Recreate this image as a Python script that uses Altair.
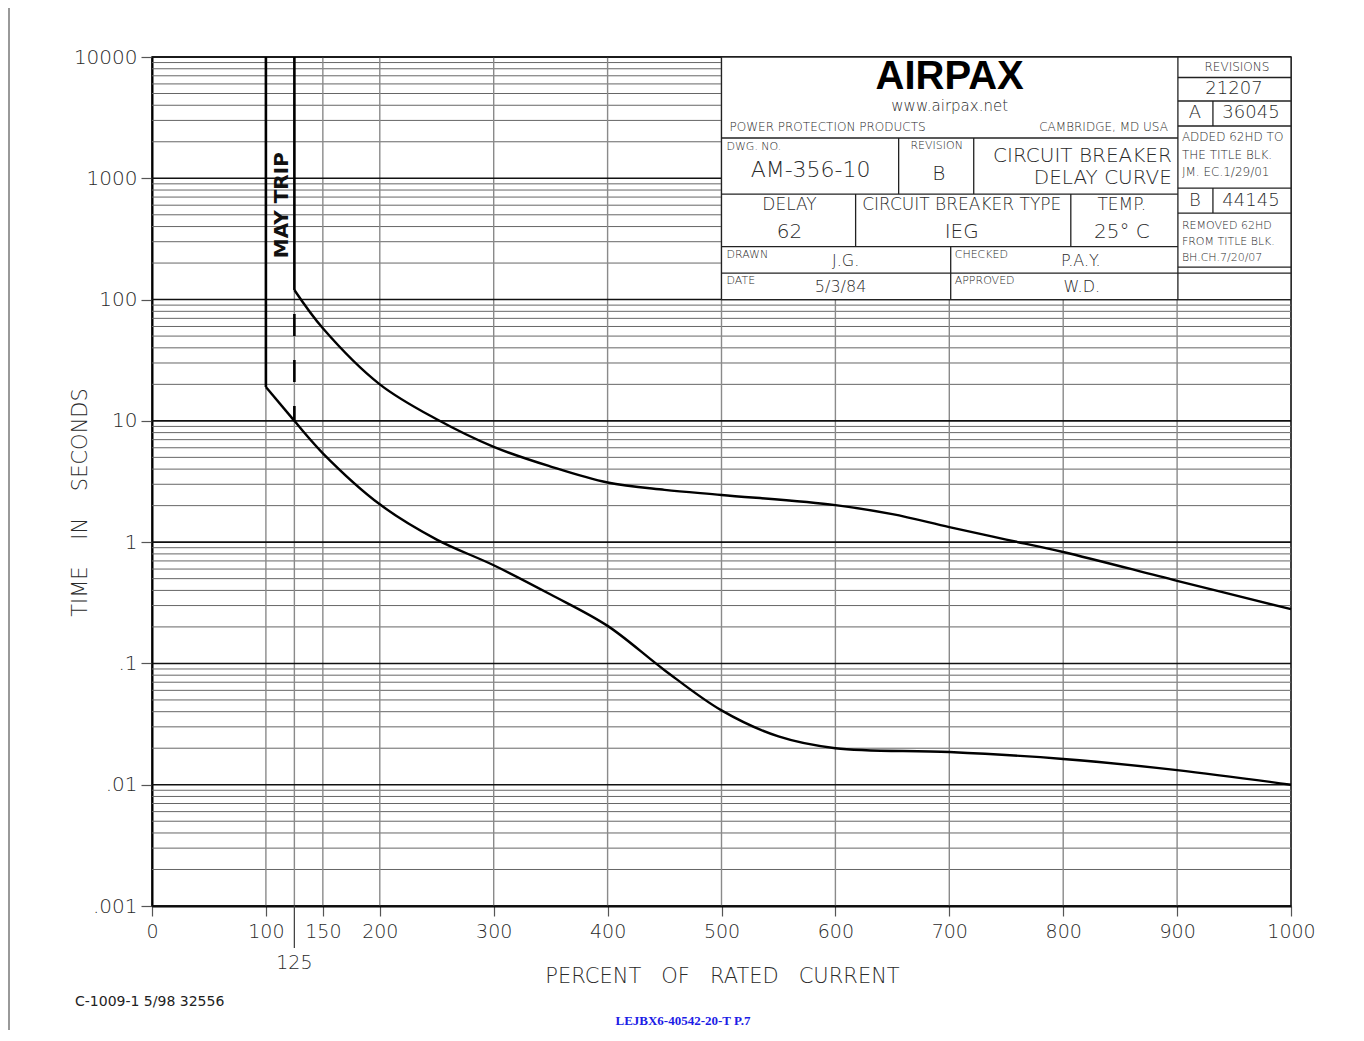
import altair as alt
import pandas as pd

# ---------------- data ----------------
# lower (minimum trip) curve, percent of rated current vs seconds
lower_x = [125, 150, 200, 250, 300, 350, 400, 450, 500, 550, 600, 700, 800, 900, 1000]
lower_y = [10, 5.4, 2.05, 1.05, 0.645, 0.37, 0.204, 0.088, 0.041, 0.025, 0.020, 0.0186, 0.0163, 0.0132, 0.010]
# upper (maximum trip) curve
upper_x = [125, 150, 200, 250, 300, 350, 400, 450, 500, 600, 650, 700, 750, 800, 900, 1000]
upper_y = [120, 58, 20, 10.3, 6.1, 4.2, 3.1, 2.7, 2.45, 2.02, 1.7, 1.33, 1.05, 0.83, 0.48, 0.28]
# straight segment between the two vertical limits
corner_x = [100, 125]
corner_y = [19, 10]
min_trip_pct, min_trip_sec = 100, 19
max_trip_pct, max_trip_sec = 125, 120

x_ticks = [0, 100, 150, 200, 300, 400, 500, 600, 700, 800, 900, 1000]
y_ticks = [0.001, 0.01, 0.1, 1, 10, 100, 1000, 10000]
x_grid = [100, 125, 150, 200, 300, 400, 500, 600, 700, 800, 900]
decades = [0.001, 0.01, 0.1, 1, 10, 100, 1000]
minor_mult = [2, 3, 4, 5, 6, 7, 8, 9]

FONT = "DejaVu Sans"
TXT = "#2a2a2a"
LIGHT = 200

xscale = alt.Scale(domain=[0, 1000], nice=False, zero=False)
yscale = alt.Scale(type="log", domain=[0.001, 10000], nice=False)

xaxis = alt.Axis(values=x_ticks, grid=False, format="d", labelFont=FONT, labelFontSize=19, labelColor=TXT,
                 labelFontWeight=LIGHT,
                 tickSize=10, tickColor="#555", tickWidth=1.2, labelPadding=6,
                 domainColor="black", domainWidth=2, labelFlush=False,
                 title="PERCENT\u00a0\u00a0\u00a0OF\u00a0\u00a0\u00a0RATED\u00a0\u00a0\u00a0CURRENT",
                 titleFont=FONT, titleFontSize=21, titleFontWeight=LIGHT, titleColor=TXT,
                 titleX=570, titleY=70, titleBaseline="middle", titleAlign="center")
yaxis = alt.Axis(values=y_ticks, grid=False, labelFont=FONT, labelFontSize=20, labelColor=TXT,
                 labelFontWeight=LIGHT,
                 labelExpr="datum.value < 1 ? replace(toString(datum.value), '0.', '.') : toString(datum.value)",
                 tickSize=11, tickColor="#555", tickWidth=1.2, labelPadding=4,
                 domainColor="black", domainWidth=2, labelFlush=False,
                 title="TIME\u00a0\u00a0\u00a0\u00a0IN\u00a0\u00a0\u00a0\u00a0SECONDS",
                 titleFont=FONT, titleFontSize=21, titleFontWeight=LIGHT, titleColor=TXT,
                 titleX=-72, titleY=445, titleAngle=270, titleBaseline="middle", titleAlign="center")


def X():
    return alt.X("x:Q", scale=xscale, axis=xaxis)


def Y():
    return alt.Y("y:Q", scale=yscale, axis=yaxis)


# ---------------- grid ----------------
df_minor = pd.DataFrame({"y": [m * d for d in decades for m in minor_mult]})
df_major = pd.DataFrame({"y": y_ticks})
df_vgrid = pd.DataFrame({"x": x_grid})

minor = alt.Chart(df_minor).mark_rule(color="#666", strokeWidth=1).encode(y=Y())
vgrid = alt.Chart(df_vgrid).mark_rule(color="#8a8a8a", strokeWidth=1.4).encode(x=X())
major = alt.Chart(df_major).mark_rule(color="#111", strokeWidth=1.6).encode(y=Y())

# ---------------- title block (drawn in block units, mapped to the chart grid) ----------------
BW, BH = 569.0, 242.5


def bx(u):
    return 500 + u * 500 / BW


def by(v):
    return 10 ** (4 - v * 2 / BH)


block_lines = [
    (0, 0, 569, 0), (0, 242.5, 569, 242.5), (0, 0, 0, 242.5), (569, 0, 569, 242.5),
    (0, 81, 456, 81), (0, 137, 456, 137), (0, 189.5, 456, 189.5), (0, 216, 569, 216),
    (456, 20.5, 569, 20.5), (456, 44, 569, 44), (456, 69, 569, 69),
    (456, 131, 569, 131), (456, 156, 569, 156), (456, 210, 569, 210),
    (177, 81, 177, 137), (252, 81, 252, 137),
    (134, 137, 134, 189.5), (349, 137, 349, 189.5),
    (229, 189.5, 229, 242.5), (456, 0, 456, 242.5),
    (491, 44, 491, 69), (491, 131, 491, 156),
]
df_bl = pd.DataFrame([{"x": bx(a), "y": by(b), "x2": bx(c), "y2": by(d)} for a, b, c, d in block_lines])

df_brect = pd.DataFrame([{"x": bx(0), "x2": bx(BW), "y": by(0), "y2": by(BH)}])
brect = alt.Chart(df_brect).mark_rect(color="white").encode(x=X(), x2="x2:Q", y=Y(), y2="y2:Q")
blines = alt.Chart(df_bl).mark_rule(color="#222", strokeWidth=1.3).encode(x=X(), x2="x2:Q", y=Y(), y2="y2:Q")

txt_center = [
    ("www.airpax.net", 228, 49, 15),
    ("AM-356-10", 89, 113, 22),
    ("REVISION", 215, 89, 11),
    ("B", 217, 117, 20),
    ("DELAY", 68, 148, 17),
    ("62", 68, 175, 20),
    ("CIRCUIT BREAKER TYPE", 240, 148, 17),
    ("IEG", 240, 175, 20),
    ("TEMP.", 400, 148, 17),
    ("25° C", 400, 175, 20),
    ("J.G.", 124, 204, 16),
    ("P.A.Y.", 359, 204, 16),
    ("5/3/84", 119, 230, 16),
    ("W.D.", 360, 230, 16),
    ("REVISIONS", 515, 10, 12),
    ("21207", 512, 32, 18),
    ("A", 473, 56, 18),
    ("36045", 529, 56, 18),
    ("B", 473, 144, 18),
    ("44145", 529, 144, 18),
]
txt_left = [
    ("POWER PROTECTION PRODUCTS", 8, 70, 12),
    ("DWG. NO.", 5, 90, 11),
    ("DRAWN", 5, 198, 11),
    ("CHECKED", 233, 198, 11),
    ("DATE", 5, 224, 11),
    ("APPROVED", 233, 224, 11),
    ("ADDED 62HD TO", 460, 80, 12),
    ("THE TITLE BLK.", 460, 98, 12),
    ("JM. EC.1/29/01", 460, 115, 12),
    ("REMOVED 62HD", 460, 169, 11),
    ("FROM TITLE BLK.", 460, 185, 11),
    ("BH.CH.7/20/07", 460, 201, 11),
]
txt_right = [
    ("CAMBRIDGE, MD USA", 446, 70, 12),
    ("CIRCUIT BREAKER", 450, 98.5, 20),
    ("DELAY CURVE", 450, 121, 20),
]


def tdf(rows):
    return pd.DataFrame([{"t": t, "x": bx(u), "y": by(v), "s": s} for t, u, v, s in rows])


def text_layer(rows, align):
    return alt.Chart(tdf(rows)).mark_text(align=align, baseline="middle", font=FONT, fontWeight=LIGHT,
                                          color=TXT).encode(
        x=X(), y=Y(), text="t:N", size=alt.Size("s:Q", scale=None, legend=None))


logo = alt.Chart(tdf([("AIRPAX", 228, 20, 40)])).mark_text(
    align="center", baseline="middle", font="Liberation Sans", fontWeight="bold", color="black").encode(
    x=X(), y=Y(), text="t:N", size=alt.Size("s:Q", scale=None, legend=None))

# ---------------- curves ----------------
df_lower = pd.DataFrame({"x": lower_x, "y": lower_y})
df_upper = pd.DataFrame({"x": upper_x, "y": upper_y})
df_corner = pd.DataFrame({"x": corner_x, "y": corner_y})

lower = alt.Chart(df_lower).mark_line(color="black", strokeWidth=2.4, interpolate="catmull-rom").encode(x=X(), y=Y())
upper = alt.Chart(df_upper).mark_line(color="black", strokeWidth=2.4, interpolate="catmull-rom").encode(x=X(), y=Y())
corner = alt.Chart(df_corner).mark_line(color="black", strokeWidth=2.4).encode(x=X(), y=Y())

df_limits = pd.DataFrame([
    {"x": min_trip_pct, "y": 10000, "y2": min_trip_sec},
    {"x": max_trip_pct, "y": 10000, "y2": max_trip_sec},
])
limits = alt.Chart(df_limits).mark_rule(color="black", strokeWidth=2.6).encode(x=X(), y=Y(), y2="y2:Q")
df_dash = pd.DataFrame({"x": [max_trip_pct, max_trip_pct], "y": [max_trip_sec, corner_y[1]], "o": [0, 1]})
dash = alt.Chart(df_dash).mark_line(color="black", strokeWidth=2.6, strokeDash=[22, 24],
                                    strokeDashOffset=22).encode(x=X(), y=Y(), order="o:Q")

df_may = pd.DataFrame([{"t": "MAY TRIP", "x": 114, "y": 600}])
may = alt.Chart(df_may).mark_text(angle=270, align="center", baseline="middle", font=FONT,
                                  fontWeight="bold", fontSize=20, color="#111").encode(x=X(), y=Y(), text="t:N")

# ---------------- 125 tick and page notes ----------------
df_125 = pd.DataFrame([{"x": 125, "t": "125"}])
tick125 = alt.Chart(df_125).mark_rule(color="#444", strokeWidth=1.3).encode(
    x=X(), y=alt.value(849), y2=alt.value(891))
lab125 = alt.Chart(df_125).mark_text(font=FONT, fontWeight=LIGHT, fontSize=19, color=TXT, baseline="middle").encode(
    x=X(), y=alt.value(906), text="t:N")

notes = pd.DataFrame([{"t": "C-1009-1 5/98 32556"}])
note1 = alt.Chart(notes).mark_text(font=FONT, fontSize=14, color="#222", align="left", baseline="middle").encode(
    x=alt.value(-77), y=alt.value(945), text="t:N")
notes2 = pd.DataFrame([{"t": "LEJBX6-40542-20-T P.7"}])
note2 = alt.Chart(notes2).mark_text(font="Liberation Serif", fontWeight="bold", fontSize=13, color="#1c1ce6",
                                    align="center", baseline="middle").encode(
    x=alt.value(531), y=alt.value(964), text="t:N")
border = alt.Chart(notes).mark_rule(color="#555", strokeWidth=1.2).encode(
    x=alt.value(-143), y=alt.value(-60), y2=alt.value(990))

chart = alt.layer(
    minor, vgrid, major,
    brect, blines,
    text_layer(txt_center, "center"), text_layer(txt_left, "left"), text_layer(txt_right, "right"), logo,
    lower, upper, corner, limits, dash, may,
    tick125, lab125, note1, note2, border,
).properties(
    width=1139, height=849,
    autosize=alt.AutoSizeParams(type="none"),
    padding={"left": 144, "top": 49, "right": 60, "bottom": 124},
    background="white",
).configure_view(stroke="black", strokeWidth=1.5)

chart.save("out.html", embed_options={"renderer": "svg", "actions": False})
